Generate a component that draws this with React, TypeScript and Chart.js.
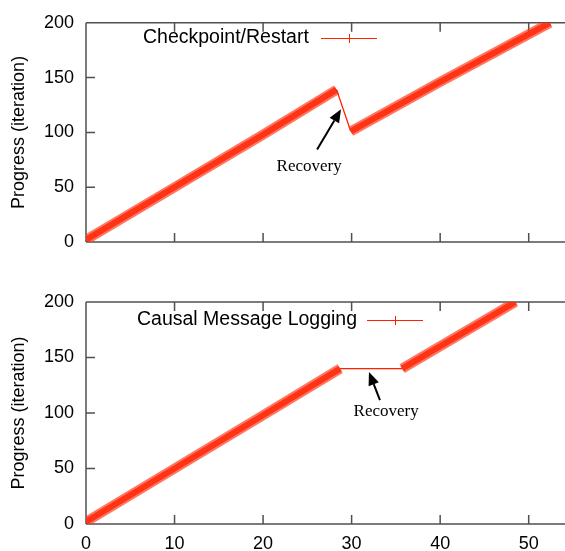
import React, { useEffect, useRef } from "react";
import { Chart, registerables } from "chart.js";
Chart.register(...registerables);

// ---- data ----
const xTicks = [0, 10, 20, 30, 40, 50];
const yTicks = [0, 50, 100, 150, 200];

const crLabel = "Checkpoint/Restart";
const crTime = [0, 10, 20, 28.3, 29.9, 40, 52.4];
const crProgress = [2, 50, 98, 139, 101, 146, 200];
const crRecoverySegment = 3; // segment index drawn thin (the rollback)

const cmlLabel = "Causal Message Logging";
const cmlTime = [0, 10, 20, 28.7, 35.7, 48.5];
const cmlProgress = [2, 50, 98, 140, 140, 200];
const cmlRecoverySegment = 3; // flat recovery segment

const recoveryText = "Recovery";
// annotation positions in data units: text (x, y), arrow tail (x, y), arrow head (x, y)
const crNote = { text: [25.2, 64.6], tail: [26.1, 84.3], head: [28.8, 121.1] };
const cmlNote = { text: [33.9, 97.3], tail: [33.2, 111.7], head: [31.96, 136.9] };

const SANS = '"Liberation Sans", Arial, Helvetica, sans-serif';
const SERIF = '"Liberation Serif", "Times New Roman", serif';
const RED = "rgb(255,32,0)";
const HALO = "rgba(255,60,30,0.7)";
const AXIS = "#505050";

type PanelCfg = {
  label: string;
  time: number[];
  progress: number[];
  recovery: number;
  note: { text: number[]; tail: number[]; head: number[] };
  height: number;
  padTop: number;
  xAxisH: number;
  showX: boolean;
  key: { textX: number; y: number; x1: number; x2: number };
};

function makeOverlay(cfg: PanelCfg) {
  return {
    id: "gnuOverlay",
    beforeDatasetsDraw(chart: any) {
      const { ctx, chartArea: a, scales } = chart;
      const xs = scales.x, ys = scales.y;
      ctx.save();
      ctx.strokeStyle = AXIS;
      ctx.lineWidth = 1.5;
      ctx.beginPath();
      ctx.moveTo(a.left, a.top);
      ctx.lineTo(a.left, a.bottom);
      ctx.moveTo(a.left, a.top);
      ctx.lineTo(a.right, a.top);
      ctx.moveTo(a.left, a.bottom);
      ctx.lineTo(a.right, a.bottom);
      const tl = 9;
      xTicks.forEach((v) => {
        const px = xs.getPixelForValue(v);
        ctx.moveTo(px, a.bottom);
        ctx.lineTo(px, a.bottom - tl);
        ctx.moveTo(px, a.top);
        ctx.lineTo(px, a.top + tl);
      });
      yTicks.forEach((v) => {
        const py = ys.getPixelForValue(v);
        ctx.moveTo(a.left, py);
        ctx.lineTo(a.left + tl, py);
      });
      ctx.stroke();
      ctx.restore();
    },
    afterDraw(chart: any) {
      const { ctx, scales } = chart;
      const xs = scales.x, ys = scales.y;
      ctx.save();
      // key
      ctx.font = `19.5px ${SANS}`;
      ctx.fillStyle = "#000";
      ctx.textAlign = "left";
      ctx.textBaseline = "middle";
      ctx.fillText(cfg.label, cfg.key.textX, cfg.key.y);
      ctx.strokeStyle = RED;
      ctx.lineWidth = 1;
      ctx.beginPath();
      ctx.moveTo(cfg.key.x1, cfg.key.y + 0.5);
      ctx.lineTo(cfg.key.x2, cfg.key.y + 0.5);
      const mx = Math.round((cfg.key.x1 + cfg.key.x2) / 2) + 0.5;
      ctx.moveTo(mx, cfg.key.y - 4);
      ctx.lineTo(mx, cfg.key.y + 5);
      ctx.stroke();
      // annotation
      const n = cfg.note;
      ctx.font = `17px ${SERIF}`;
      ctx.textAlign = "center";
      ctx.textBaseline = "alphabetic";
      ctx.fillStyle = "#000";
      ctx.fillText(recoveryText, xs.getPixelForValue(n.text[0]), ys.getPixelForValue(n.text[1]));
      const tx = xs.getPixelForValue(n.tail[0]), ty = ys.getPixelForValue(n.tail[1]);
      const hx = xs.getPixelForValue(n.head[0]), hy = ys.getPixelForValue(n.head[1]);
      const ang = Math.atan2(hy - ty, hx - tx);
      const hl = 13, hw = 5.5;
      const bx = hx - hl * Math.cos(ang), by = hy - hl * Math.sin(ang);
      ctx.strokeStyle = "#000";
      ctx.lineWidth = 2;
      ctx.beginPath();
      ctx.moveTo(tx, ty);
      ctx.lineTo(bx, by);
      ctx.stroke();
      ctx.fillStyle = "#000";
      ctx.beginPath();
      ctx.moveTo(hx, hy);
      ctx.lineTo(bx + hw * Math.sin(ang), by - hw * Math.cos(ang));
      ctx.lineTo(bx - hw * Math.sin(ang), by + hw * Math.cos(ang));
      ctx.closePath();
      ctx.fill();
      ctx.restore();
    },
  };
}

function Panel({ cfg }: { cfg: PanelCfg }) {
  const ref = useRef<HTMLCanvasElement | null>(null);
  useEffect(() => {
    if (!ref.current) return;
    const pts = cfg.time.map((t, i) => ({ x: t, y: cfg.progress[i] }));
    const font = { family: SANS, size: 18 };
    const chart = new Chart(ref.current, {
      type: "line",
      data: {
        datasets: [
          {
            label: cfg.label + " (halo)",
            data: pts,
            borderColor: HALO,
            borderWidth: 10,
            pointRadius: 0,
            tension: 0,
            segment: {
              borderWidth: (c: any) => (c.p0DataIndex === cfg.recovery ? 1.3 : 10),
              borderColor: (c: any) => (c.p0DataIndex === cfg.recovery ? RED : HALO),
            },
          },
          {
            label: cfg.label,
            data: pts,
            borderColor: RED,
            borderWidth: 6,
            pointRadius: 0,
            tension: 0,
            segment: {
              borderColor: (c: any) => (c.p0DataIndex === cfg.recovery ? "rgba(0,0,0,0)" : RED),
            },
          },
        ],
      },
      options: {
        animation: false,
        responsive: false,
        maintainAspectRatio: false,
        layout: { padding: { top: cfg.padTop, right: 0, bottom: 0, left: 0 } },
        plugins: { legend: { display: false }, tooltip: { enabled: false } },
        scales: {
          x: {
            type: "linear",
            min: 0,
            max: 54.1,
            afterBuildTicks: (s: any) => {
              s.ticks = xTicks.map((v) => ({ value: v }));
            },
            afterFit: (s: any) => {
              s.height = cfg.xAxisH;
            },
            grid: { display: false, drawTicks: false },
            border: { display: false },
            ticks: { display: cfg.showX, padding: 9, font, color: "#000", maxRotation: 0, autoSkip: false },
          },
          y: {
            type: "linear",
            min: 0,
            max: 200,
            afterBuildTicks: (s: any) => {
              s.ticks = yTicks.map((v) => ({ value: v }));
            },
            afterFit: (s: any) => {
              s.width = 86;
            },
            grid: { display: false, drawTicks: false },
            border: { display: false },
            ticks: { padding: 12, font, color: "#000" },
            title: {
              display: true,
              text: "Progress (iteration)",
              font,
              color: "#000",
              padding: { top: 8, bottom: 0 },
            },
          },
        },
      } as any,
      plugins: [makeOverlay(cfg)],
    });
    return () => chart.destroy();
  }, []);
  return <canvas ref={ref} width={565} height={cfg.height} style={{ display: "block" }} />;
}

const topCfg: PanelCfg = {
  label: crLabel,
  time: crTime,
  progress: crProgress,
  recovery: crRecoverySegment,
  note: crNote,
  height: 275,
  padTop: 19,
  xAxisH: 33,
  showX: false,
  key: { textX: 143, y: 38, x1: 321, x2: 377 },
};

const bottomCfg: PanelCfg = {
  label: cmlLabel,
  time: cmlTime,
  progress: cmlProgress,
  recovery: cmlRecoverySegment,
  note: cmlNote,
  height: 276,
  padTop: 27,
  xAxisH: 27,
  showX: true,
  key: { textX: 137, y: 45, x1: 367, x2: 423 },
};

export default function App() {
  return (
    <div style={{ position: "absolute", left: 0, top: 0, width: 565, height: 551, background: "#fff", overflow: "hidden" }}>
      <Panel cfg={topCfg} />
      <Panel cfg={bottomCfg} />
    </div>
  );
}
